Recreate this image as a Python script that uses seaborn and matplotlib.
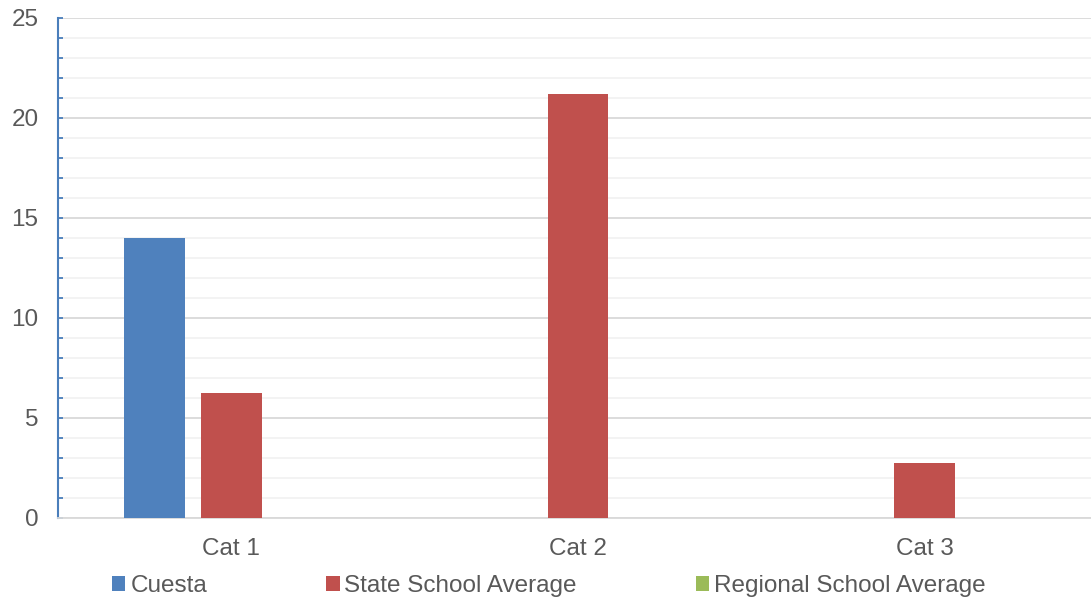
import matplotlib
matplotlib.use("Agg")
import matplotlib.pyplot as plt
from matplotlib.ticker import MultipleLocator
import seaborn as sns
import pandas as pd

categories = ["Cat 1", "Cat 2", "Cat 3"]
series_names = ["Cuesta", "State School Average", "Regional School Average"]
cuesta = [14.0, 0.0, 0.0]
state_avg = [6.25, 21.2, 2.75]
regional_avg = [0.0, 0.0, 0.0]
colors = ["#4F81BD", "#C0504D", "#9BBB59"]

rows = []
for name, vals in zip(series_names, [cuesta, state_avg, regional_avg]):
    for c, v in zip(categories, vals):
        rows.append({"Category": c, "Series": name, "Value": v})
df = pd.DataFrame(rows)

sns.set_theme(style="white")
plt.rcParams['font.family'] = ['Liberation Sans', 'DejaVu Sans']
text_color = "#595959"
fs = 17.5

fig = plt.figure(figsize=(10.91, 6.0), dpi=100)
ax = fig.add_axes([58 / 1091, 82 / 600, 1040 / 1091, 500 / 600])

sns.barplot(data=df, x="Category", y="Value", hue="Series", hue_order=series_names,
            palette=colors, saturation=1, width=0.666, gap=0.21, linewidth=0, ax=ax,
            legend=True, zorder=3)

ax.set_xlim(-0.5, 2.5)
ax.set_ylim(0, 25)
ax.yaxis.set_major_locator(MultipleLocator(5))
ax.yaxis.set_minor_locator(MultipleLocator(1))
ax.grid(which="major", axis="y", color="#D9D9D9", linewidth=1.3, zorder=0)
ax.grid(which="minor", axis="y", color="#F2F2F2", linewidth=1.3, zorder=0)
ax.set_axisbelow(True)

for s in ["top", "right"]:
    ax.spines[s].set_visible(False)
ax.spines["left"].set_color("#4A7EBB")
ax.spines["left"].set_linewidth(1.5)
ax.spines["bottom"].set_color("#D9D9D9")
ax.spines["bottom"].set_linewidth(1.3)

ax.tick_params(axis="y", which="both", direction="in", length=3.6, width=1.3,
               color="#4A7EBB", labelsize=fs, labelcolor=text_color, pad=14, left=True)
ax.tick_params(axis="x", length=0, labelsize=fs, labelcolor=text_color, pad=14.5)
ax.set_xlabel("")
ax.set_ylabel("")

leg = ax.get_legend()
handles = leg.legend_handles
leg.remove()
fig.legend(handles, series_names, loc="center", bbox_to_anchor=(549 / 1091, 1 - 586 / 600),
           ncol=3, frameon=False, fontsize=fs, labelcolor=text_color,
           handlelength=0.55, handleheight=0.55, handletextpad=0.2, columnspacing=4.9,
           borderaxespad=0, borderpad=0)

fig.savefig("out.png", dpi=100)
